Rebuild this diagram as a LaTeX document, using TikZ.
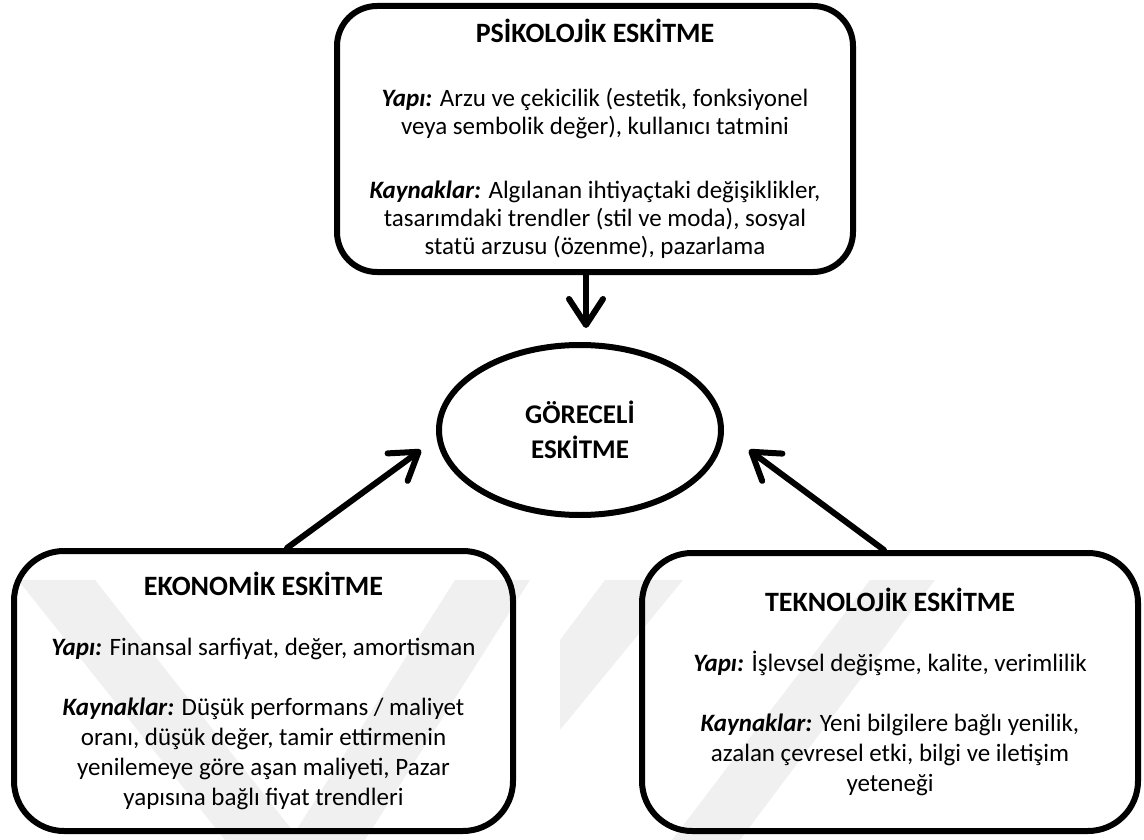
\documentclass[tikz,border=0pt]{standalone}
\usepackage{fontspec}
\setmainfont{Carlito}
\usetikzlibrary{arrows.meta,shapes.geometric}
\begin{document}
\begin{tikzpicture}[x=1pt,y=-1pt,
  box/.style={draw=black,line width=6pt,align=center,inner sep=0pt},
  body/.style={font=\fontsize{25}{30}\selectfont},
  bodytop/.style={font=\fontsize{25}{28}\selectfont},
  conn/.style={line width=6pt,line cap=round,-{Straight Barb[length=26pt,width=34pt,line width=6pt,round]}},
  wm/.style={draw=none,fill=black!6}
]
\useasboundingbox (0,0) rectangle (1144,840);
% faint watermark
\fill[wm] (18,580) -- (95,580) -- (300,840) -- (225,840) -- cycle;
\fill[wm] (455,580) -- (530,580) -- (365,840) -- (290,840) -- cycle;
\fill[wm] (605,580) -- (683,580) -- (560,730) -- (560,640) -- cycle;
\fill[wm] (870,580) -- (935,580) -- (740,840) -- (672,840) -- cycle;

\node[box,rounded corners=40pt,minimum width=516pt,minimum height=266pt,bodytop] (psi) at (595,139)
 {{\fontsize{28}{28}\selectfont\bfseries PSİKOLOJİK ESKİTME}\\[36pt]
  \textbf{\textit{Yapı:}} Arzu ve çekicilik (estetik, fonksiyonel\\
  veya sembolik değer), kullanıcı tatmini\\[36pt]
  \textbf{\textit{Kaynaklar:}} Algılanan ihtiyaçtaki değişiklikler,\\
  tasarımdaki trendler (stil ve moda), sosyal\\
  statü arzusu (özenme), pazarlama};

\node[draw=black,line width=6pt,ellipse,minimum width=282pt,minimum height=170pt,align=center,
  font=\fontsize{27}{35}\selectfont\bfseries,inner sep=0pt] (gor) at (580,430)
 {GÖRECELİ\\ESKİTME};

\node[box,rounded corners=50pt,minimum width=499pt,minimum height=280pt,body] (eko) at (263.5,691)
 {{\fontsize{28}{30}\selectfont\bfseries EKONOMİK ESKİTME}\\[30pt]
  \textbf{\textit{Yapı:}} Finansal sarfiyat, değer, amortisman\\[30pt]
  \textbf{\textit{Kaynaklar:}} Düşük performans / maliyet\\
  oranı, düşük değer, tamir ettirmenin\\
  yenilemeye göre aşan maliyeti, Pazar\\
  yapısına bağlı fiyat trendleri};

\node[box,rounded corners=50pt,minimum width=496pt,minimum height=278pt,body] (tek) at (890,692)
 {{\fontsize{28}{30}\selectfont\bfseries TEKNOLOJİK ESKİTME}\\[30pt]
  \textbf{\textit{Yapı:}} İşlevsel değişme, kalite, verimlilik\\[30pt]
  \textbf{\textit{Kaynaklar:}} Yeni bilgilere bağlı yenilik,\\
  azalan çevresel etki, bilgi ve iletişim\\
  yeteneği};

\coordinate (ptip) at (586,328);
\coordinate (etip) at (421,450);
\coordinate (ttip) at (749,450);
\draw[conn] (psi.south -| ptip) -- (ptip);
\draw[conn] ([xshift=23.5pt]eko.north) -- (etip);
\draw[conn] ([xshift=-6pt]tek.north) -- (ttip);
\end{tikzpicture}
\end{document}
